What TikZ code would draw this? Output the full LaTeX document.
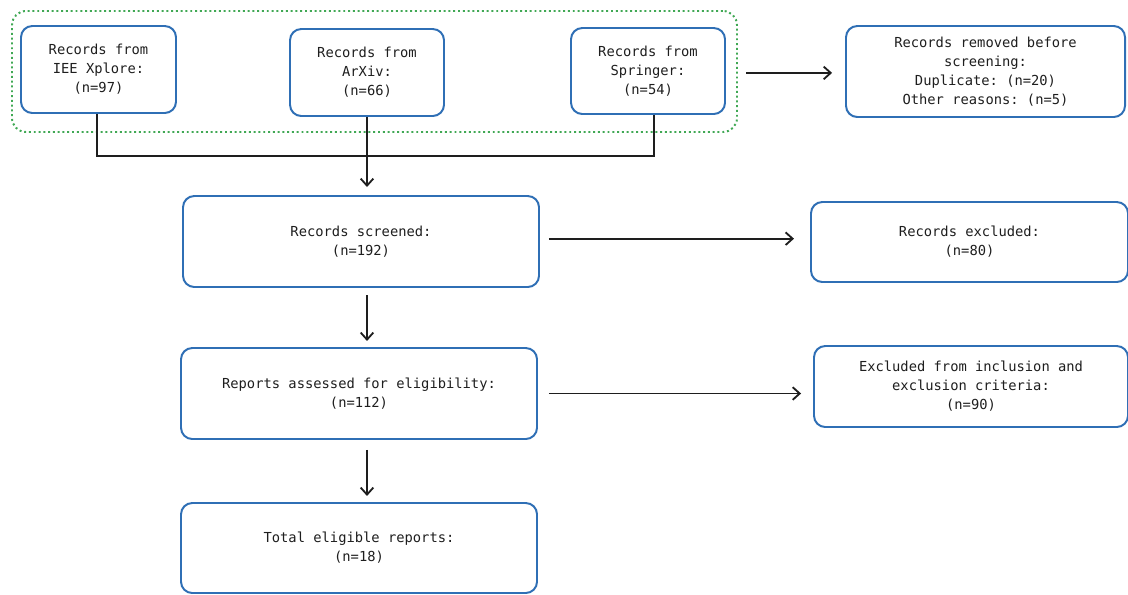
\documentclass[tikz,border=0pt]{standalone}
\usepackage{fontspec}
\setmonofont{DejaVu Sans Mono}
\usetikzlibrary{arrows.meta}
\definecolor{boxline}{RGB}{47,111,181}
\definecolor{groupline}{RGB}{64,168,84}
\definecolor{inkline}{RGB}{30,30,30}
\newcommand{\pxu}{0.025cm}

\begin{document}
\begin{tikzpicture}[x=\pxu, y=-\pxu]
            \tikzstyle{record} = [draw=boxline, line width=1.4pt, rounded corners=8pt,
                align=center, text=inkline, inner sep=0pt,
                font=\ttfamily\fontsize{9.8}{13.5}\selectfont]
            \tikzstyle{link} = [draw=inkline, line width=1.3pt]
            \tikzstyle{arrow} = [link, -{Straight Barb[length=5pt, width=9pt]}]
            \useasboundingbox (0,0) rectangle (1128,594);

            % sources
            \node[draw=groupline, dotted, line width=1.4pt, rounded corners=10pt,
                minimum width=725*\pxu, minimum height=121*\pxu] (group) at (374.5,71.5) {};
            \node[record, minimum width=155*\pxu, minimum height=87*\pxu] (iee) at (98.5,69.5)
                {Records from\\IEE Xplore:\\(n=97)};
            \node[record, minimum width=154*\pxu, minimum height=87*\pxu] (arxiv) at (367,72.5)
                {Records from\\ArXiv:\\(n=66)};
            \node[record, minimum width=154*\pxu, minimum height=86*\pxu] (springer) at (648,71)
                {Records from\\Springer:\\(n=54)};
            \node[record, minimum width=279*\pxu, minimum height=91*\pxu] (removed) at (985.5,71.5)
                {Records removed before\\screening:\\Duplicate: (n=20)\\Other reasons: (n=5)};

            % screening
            \node[record, minimum width=356*\pxu, minimum height=91*\pxu] (screened) at (361,241.5)
                {Records screened:\\(n=192)};
            \node[record, minimum width=317*\pxu, minimum height=80*\pxu] (excluded) at (969.5,242)
                {Records excluded:\\(n=80)};
            \node[record, minimum width=356*\pxu, minimum height=91*\pxu] (assessed) at (359,393.5)
                {Reports assessed for eligibility:\\(n=112)};
            \node[record, minimum width=314*\pxu, minimum height=81*\pxu] (criteria) at (971,386.5)
                {Excluded from inclusion and\\exclusion criteria:\\(n=90)};
            \node[record, minimum width=356*\pxu, minimum height=90*\pxu] (total) at (359,548)
                {Total eligible reports:\\(n=18)};

            % connectors
            \coordinate (join) at (367,156);
            \draw[link] ([xshift=-1pt]iee.south) |- (join) -| ([xshift=4.3pt]springer.south);
            \draw[arrow, shorten >=5.7pt] (arxiv.south) -- (screened.north -| arxiv.south);
            \draw[arrow, shorten <=5.7pt, shorten >=9.2pt] ([yshift=-1pt]group.east |- removed.west) -- ([yshift=-1pt]removed.west);
            \draw[arrow, shorten <=6.4pt, shorten >=11.4pt] ([yshift=2pt]screened.east) -- ([yshift=2pt]screened.east -| excluded.west);
            \draw[arrow, shorten <=5pt, shorten >=4.3pt] (screened.south -| join) -- (assessed.north -| join);
            \draw[arrow, shorten <=7.8pt, shorten >=8.5pt] (assessed.east) -- (assessed.east -| criteria.west);
            \draw[arrow, shorten <=7.1pt, shorten >=4.3pt] (assessed.south -| join) -- (total.north -| join);
        \end{tikzpicture}
\end{document}
